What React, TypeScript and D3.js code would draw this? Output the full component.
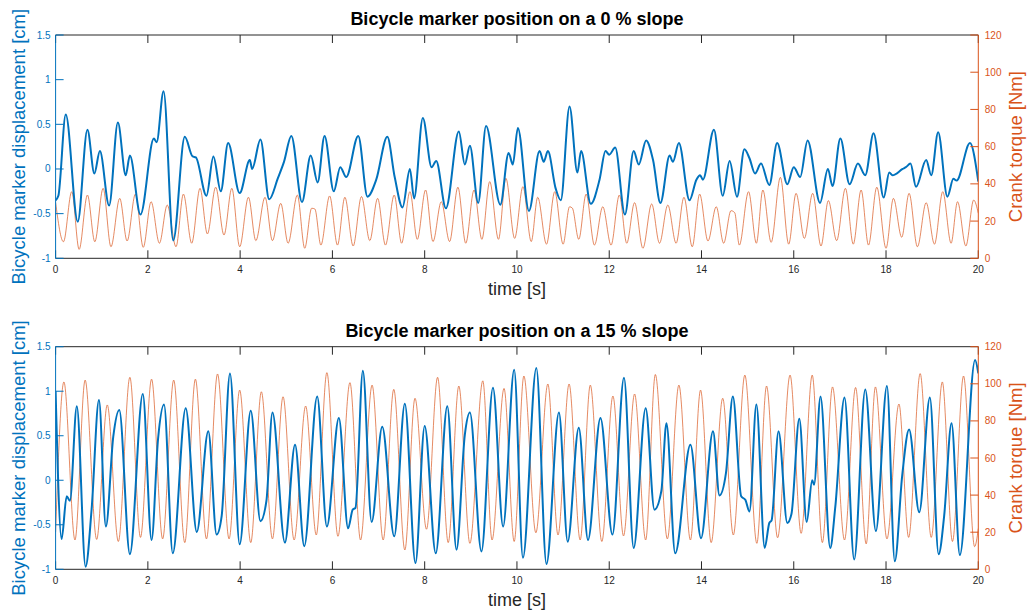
import React from 'react';
import * as d3 from 'd3';

const W = 1030;
const H = 613;
const FONT = '"Liberation Sans", Arial, Helvetica, sans-serif';
const BLUE = '#0072BD';
const ORANGE = '#D95319';
const GRAY = '#262626';

const timeTicks = [0, 2, 4, 6, 8, 10, 12, 14, 16, 18, 20];
const dispTicks = [-1, -0.5, 0, 0.5, 1, 1.5];
const torqueTicks = [0, 20, 40, 60, 80, 100, 120];

// [time s, displacement cm] — 0 % slope
const flatDisplacement: [number, number][] = [
  [0, -0.35], [0.06, -0.3], [0.22, 0.61], [0.48, -0.59], [0.69, 0.44], [0.84, -0.05], [0.96, 0.2],
  [1.16, -0.41], [1.35, 0.52], [1.52, -0.07], [1.61, 0.15], [1.84, -0.51], [2.13, 0.34], [2.19, 0.3],
  [2.34, 0.87], [2.55, -0.8], [2.8, 0.36], [2.97, 0.14], [3.04, 0.13], [3.27, -0.3], [3.42, 0.14],
  [3.58, -0.25], [3.74, 0.29], [3.99, -0.27], [4.21, 0.1], [4.26, 0.0], [4.44, 0.33], [4.63, -0.34],
  [4.82, -0.1], [4.95, 0.08], [5.11, 0.37], [5.34, -0.37], [5.53, 0.15], [5.68, -0.15], [5.83, 0.37],
  [6.03, -0.25], [6.17, 0.02], [6.3, -0.09], [6.56, 0.37], [6.76, -0.31], [6.95, -0.12], [7.19, 0.36],
  [7.35, -0.09], [7.52, -0.43], [7.68, 0.0], [7.77, -0.33], [7.96, 0.57], [8.15, 0.02], [8.25, 0.09],
  [8.46, -0.44], [8.74, 0.42], [8.87, 0.05], [8.98, 0.26], [9.16, -0.38], [9.33, 0.48], [9.64, -0.4],
  [9.82, 0.18], [9.91, 0.05], [10.02, 0.46], [10.26, -0.47], [10.49, 0.2], [10.58, 0.08], [10.67, 0.2],
  [10.84, -0.22], [10.95, -0.35], [11.14, 0.7], [11.31, -0.04], [11.39, 0.2], [11.6, -0.39],
  [11.79, -0.12], [11.92, 0.2], [12.0, 0.16], [12.13, 0.24], [12.34, -0.51], [12.53, 0.2], [12.64, 0.05],
  [12.8, 0.32], [12.95, 0.1], [13.11, -0.38], [13.31, 0.15], [13.38, 0.08], [13.51, 0.29], [13.74, -0.35],
  [13.89, -0.12], [13.97, -0.07], [14.03, -0.12], [14.27, 0.44], [14.46, -0.3], [14.61, 0.09],
  [14.77, -0.31], [14.93, 0.22], [15.04, 0.12], [15.16, -0.05], [15.29, 0.06], [15.47, -0.18],
  [15.64, 0.29], [15.86, -0.17], [16.0, 0.02], [16.14, -0.09], [16.3, 0.32], [16.57, -0.38], [16.74, 0.0],
  [16.84, -0.19], [17.01, 0.34], [17.21, -0.17], [17.39, 0.06], [17.55, -0.07], [17.73, 0.4],
  [17.95, -0.32], [18.07, -0.04], [18.14, -0.07], [18.36, 0.0], [18.43, 0.02], [18.53, 0.06],
  [18.65, -0.2], [18.87, 0.1], [18.98, -0.07], [19.13, 0.41], [19.33, -0.31], [19.46, -0.11],
  [19.53, -0.13], [19.82, 0.29], [20, -0.14],
];

// [time s, crank torque Nm] — 0 % slope
const flatTorque: [number, number][] = [
  [0, 30], [0.17, 8.9], [0.35, 35.8], [0.51, 4.8], [0.69, 34], [0.85, 8.9], [1.03, 37.6], [1.2, 6.2],
  [1.39, 32.2], [1.55, 9.3], [1.73, 34.5], [1.9, 5.9], [2.07, 30.4], [2.25, 8.1], [2.42, 28.6],
  [2.61, 6.2], [2.77, 34.5], [2.95, 8.1], [3.13, 37.6], [3.29, 13.1], [3.47, 38.2], [3.65, 12.5],
  [3.82, 37.6], [3.99, 6.2], [4.18, 32.8], [4.34, 9.5], [4.54, 32.8], [4.7, 9.5], [4.88, 29.5],
  [5.04, 8.1], [5.24, 34], [5.4, 5.4], [5.55, 26.9], [5.62, 26.5], [5.75, 7.1], [5.94, 33.5],
  [6.11, 7.1], [6.27, 32.8], [6.45, 6.6], [6.63, 33.2], [6.81, 9.5], [6.98, 32.2], [7.15, 7.1],
  [7.34, 34], [7.5, 8.1], [7.68, 35.8], [7.84, 10.2], [8.02, 36.7], [8.18, 9], [8.36, 30.4], [8.54, 9],
  [8.72, 38.2], [8.89, 8.1], [9.07, 36.7], [9.24, 10.2], [9.41, 41.2], [9.6, 10.2], [9.76, 43],
  [9.95, 10.7], [10.13, 38.5], [10.31, 9], [10.45, 32.8], [10.64, 7.6], [10.82, 35.8], [11.0, 7.6],
  [11.14, 27.7], [11.2, 27], [11.34, 10.2], [11.5, 34.5], [11.68, 7.1], [11.86, 27.7], [12.04, 7.1],
  [12.22, 34], [12.38, 8.1], [12.55, 29.9], [12.73, 5.4], [12.92, 29.2], [13.09, 8.1], [13.27, 28.6],
  [13.45, 8.1], [13.62, 32.8], [13.8, 6.2], [13.96, 34.5], [14.14, 9.3], [14.32, 27.7], [14.48, 8.1],
  [14.64, 25.6], [14.72, 24.5], [14.82, 7.1], [15.02, 35.8], [15.19, 8.1], [15.33, 36.7], [15.51, 8.6],
  [15.71, 43.5], [15.89, 7.6], [16.05, 34.9], [16.23, 10.7], [16.41, 34.9], [16.59, 6.6], [16.75, 31],
  [16.93, 9.5], [17.12, 37.6], [17.29, 7.6], [17.46, 36.7], [17.62, 7.1], [17.8, 38.2], [18.0, 5.4],
  [18.16, 32.2], [18.34, 11.3], [18.5, 34.9], [18.68, 6.2], [18.87, 29.9], [19.05, 7.6], [19.23, 35.8],
  [19.41, 8.1], [19.55, 30.4], [19.73, 6.6], [19.9, 31.3], [20, 24.2],
];

// [time s, displacement cm] — 15 % slope
const slopeDisplacement: [number, number][] = [
  [0, 1.0], [0.13, -0.66], [0.24, -0.18], [0.31, -0.23], [0.46, 0.83], [0.65, -0.97], [0.78, -0.33],
  [0.94, 0.9], [1.09, -0.52], [1.25, 0.49], [1.38, 0.79], [1.61, -0.83], [1.89, 0.97], [2.08, -0.67],
  [2.22, 0.46], [2.35, 0.85], [2.54, -0.82], [2.82, 0.81], [3.06, -0.58], [3.31, 0.55], [3.49, -0.61],
  [3.6, -0.4], [3.78, 1.2], [3.99, -0.72], [4.23, 0.78], [4.44, -0.46], [4.57, -0.23], [4.7, 0.76],
  [4.97, -0.7], [5.19, 0.4], [5.39, -0.74], [5.67, 0.94], [5.88, -0.52], [6.14, 0.7], [6.34, -0.54],
  [6.44, -0.33], [6.5, -0.31], [6.66, 1.23], [6.85, -0.47], [7.08, 0.6], [7.34, -0.63], [7.57, 0.86],
  [7.8, -0.93], [8.0, 0.61], [8.24, -0.82], [8.49, 0.83], [8.69, -0.78], [8.87, 0.51], [8.98, 0.76],
  [9.23, -0.8], [9.48, 1.04], [9.7, -0.52], [9.94, 1.24], [10.13, -0.87], [10.42, 1.26], [10.64, -0.94],
  [10.91, 0.76], [11.1, -0.69], [11.34, 0.59], [11.54, -0.67], [11.81, 0.7], [12.07, -0.61],
  [12.32, 1.15], [12.53, -0.76], [12.79, 0.81], [12.98, -0.33], [13.13, -0.12], [13.24, 0.64],
  [13.43, -0.82], [13.76, 0.4], [13.99, -0.65], [14.25, 0.55], [14.39, -0.17], [14.53, 0.08],
  [14.68, 0.94], [14.86, -0.18], [14.95, -0.22], [15.04, -0.35], [15.19, 0.85], [15.37, -0.76],
  [15.47, -0.48], [15.52, -0.45], [15.67, 0.55], [15.86, -0.48], [15.95, -0.38], [16.12, 0.69],
  [16.28, -0.47], [16.4, 0.0], [16.44, -0.05], [16.58, 0.94], [16.79, -0.76], [16.9, -0.3],
  [17.1, 0.93], [17.31, -0.89], [17.55, 1.02], [17.78, -0.57], [18.02, 1.06], [18.19, -0.91],
  [18.35, 0.05], [18.5, 0.57], [18.72, -0.36], [18.95, 0.93], [19.14, -0.83], [19.26, -0.4],
  [19.42, 0.64], [19.6, -0.84], [19.93, 1.35], [20, 1.2],
];

// [time s, crank torque Nm] — 15 % slope
const slopeTorque: [number, number][] = [
  [0, 20], [0.18, 101], [0.42, 15.8], [0.64, 102], [0.89, 16.1], [1.12, 88.6], [1.36, 15], [1.61, 103.5],
  [1.84, 17.2], [2.08, 102.5], [2.32, 16.4], [2.56, 102], [2.8, 14.4], [3.03, 102.5], [3.27, 16.4],
  [3.51, 105.3], [3.76, 16.4], [3.99, 96.6], [4.23, 14.4], [4.46, 95.7], [4.7, 16.4], [4.93, 93],
  [5.17, 15.8], [5.42, 88], [5.65, 18.5], [5.88, 106], [6.12, 17.8], [6.38, 100.6], [6.61, 15.8],
  [6.86, 99.3], [7.1, 15.8], [7.33, 97], [7.57, 10.4], [7.79, 92.2], [8.04, 21.6], [8.28, 103.5],
  [8.51, 14.4], [8.74, 98.8], [8.98, 14], [9.26, 101.6], [9.46, 15.8], [9.72, 97.5], [9.94, 15],
  [10.15, 104.2], [10.41, 19.7], [10.67, 99.9], [10.89, 18.5], [11.13, 99.9], [11.37, 15.8],
  [11.59, 99.3], [11.84, 15], [12.08, 93.4], [12.31, 18], [12.55, 94.5], [12.79, 15.8], [13.0, 105],
  [13.26, 16.4], [13.51, 99.3], [13.76, 15.8], [13.98, 96.6], [14.21, 14.4], [14.46, 92.2],
  [14.69, 18.5], [14.94, 104.7], [15.2, 14], [15.41, 98.8], [15.65, 17], [15.92, 104.7], [16.16, 19.4],
  [16.4, 104.7], [16.62, 14.4], [16.84, 98.3], [17.1, 15.8], [17.34, 98], [17.57, 13.7], [17.77, 98.3],
  [18.02, 16.4], [18.28, 89.1], [18.49, 17.2], [18.74, 105.5], [18.98, 17.2], [19.22, 101],
  [19.44, 15], [19.68, 104.2], [19.92, 12.2], [20, 22],
];

const PLOT_LEFT = 55.6;
const PLOT_RIGHT = 978.3;
const TICK = 8;

type PanelProps = {
  id: string;
  title: string;
  top: number;
  bottom: number;
  disp: [number, number][];
  torque: [number, number][];
};

function Panel({ id, title, top, bottom, disp, torque }: PanelProps) {
  const x = d3.scaleLinear().domain([0, 20]).range([PLOT_LEFT, PLOT_RIGHT]);
  const yL = d3.scaleLinear().domain([-1, 1.5]).range([bottom, top]);
  const yR = d3.scaleLinear().domain([0, 120]).range([bottom, top]);

  const dispLine = d3.line<[number, number]>()
    .x((d) => x(d[0]))
    .y((d) => yL(d[1]))
    .curve(d3.curveMonotoneX);
  const torqueLine = d3.line<[number, number]>()
    .x((d) => x(d[0]))
    .y((d) => yR(d[1]))
    .curve(d3.curveMonotoneX);

  const cx = (PLOT_LEFT + PLOT_RIGHT) / 2;
  const cy = (top + bottom) / 2;

  return (
    <g>
      <defs>
        <clipPath id={id}>
          <rect x={PLOT_LEFT} y={top} width={PLOT_RIGHT - PLOT_LEFT} height={bottom - top} />
        </clipPath>
      </defs>

      <text x={cx} y={top - 10} textAnchor="middle" fontSize={18} fontWeight="bold" fill="#000">
        {title}
      </text>

      <g clipPath={`url(#${id})`}>
        <path d={torqueLine(torque) ?? ''} fill="none" stroke={ORANGE} strokeOpacity={0.68} strokeWidth={1} />
        <path d={dispLine(disp) ?? ''} fill="none" stroke={BLUE} strokeWidth={2} strokeLinejoin="round" />
      </g>

      {/* top / bottom box lines and time ticks */}
      <line x1={PLOT_LEFT} x2={PLOT_RIGHT} y1={top} y2={top} stroke={GRAY} strokeWidth={1} />
      <line x1={PLOT_LEFT} x2={PLOT_RIGHT} y1={bottom} y2={bottom} stroke={GRAY} strokeWidth={1} />
      {timeTicks.map((t) => (
        <g key={t}>
          <line x1={x(t)} x2={x(t)} y1={bottom} y2={bottom - TICK} stroke={GRAY} />
          <line x1={x(t)} x2={x(t)} y1={top} y2={top + TICK} stroke={GRAY} />
          <text x={x(t)} y={bottom + 15} textAnchor="middle" fontSize={10} fill={GRAY}>{t}</text>
        </g>
      ))}

      {/* left axis */}
      <line x1={PLOT_LEFT} x2={PLOT_LEFT} y1={top} y2={bottom} stroke={BLUE} strokeWidth={1} />
      {dispTicks.map((v) => (
        <g key={v}>
          <line x1={PLOT_LEFT} x2={PLOT_LEFT + TICK} y1={yL(v)} y2={yL(v)} stroke={BLUE} />
          <text x={PLOT_LEFT - 5} y={yL(v)} dy="0.35em" textAnchor="end" fontSize={10} fill={BLUE}>{v}</text>
        </g>
      ))}

      {/* right axis */}
      <line x1={PLOT_RIGHT} x2={PLOT_RIGHT} y1={top} y2={bottom} stroke={ORANGE} strokeWidth={1} />
      {torqueTicks.map((v) => (
        <g key={v}>
          <line x1={PLOT_RIGHT} x2={PLOT_RIGHT - TICK} y1={yR(v)} y2={yR(v)} stroke={ORANGE} />
          <text x={PLOT_RIGHT + 6.5} y={yR(v)} dy="0.35em" textAnchor="start" fontSize={10} fill={ORANGE}>{v}</text>
        </g>
      ))}

      <text x={cx} y={bottom + 37} textAnchor="middle" fontSize={18} fill={GRAY}>time [s]</text>
      <text transform={`translate(25,${cy}) rotate(-90)`} textAnchor="middle" fontSize={18.5} fill={BLUE}>
        Bicycle marker displacement [cm]
      </text>
      <text transform={`translate(1022,${cy}) rotate(-90)`} textAnchor="middle" fontSize={18.5} fill={ORANGE}>
        Crank torque [Nm]
      </text>
    </g>
  );
}

export default function App() {
  return (
    <svg
      width={W}
      height={H}
      style={{ position: 'absolute', left: 0, top: 0, background: '#fff' }}
      fontFamily={FONT}
    >
      <rect width={W} height={H} fill="#fff" />
      <Panel
        id="clip-flat"
        title="Bicycle marker position on a 0 % slope"
        top={35}
        bottom={258.3}
        disp={flatDisplacement}
        torque={flatTorque}
      />
      <Panel
        id="clip-slope"
        title="Bicycle marker position on a 15 % slope"
        top={346.7}
        bottom={569.3}
        disp={slopeDisplacement}
        torque={slopeTorque}
      />
    </svg>
  );
}
